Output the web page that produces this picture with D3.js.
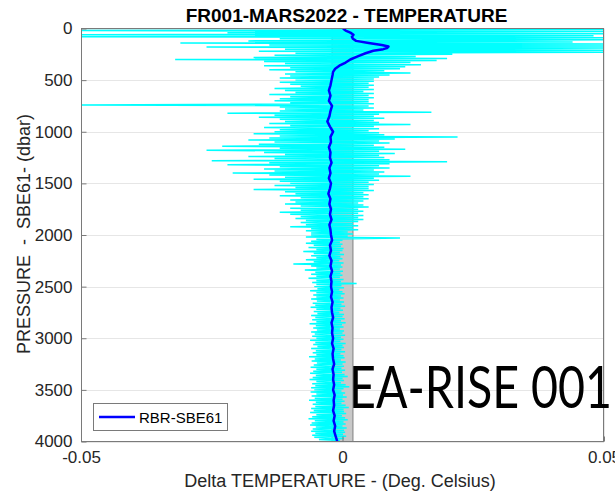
<!DOCTYPE html>
<html>
<head>
<meta charset="utf-8">
<script src="https://cdn.jsdelivr.net/npm/d3@7"></script>
<style>
  body { margin: 0; background: #fff; }
  svg { display: block; font-family: "Liberation Sans", Arial, Helvetica, sans-serif; }
</style>
</head>
<body>
<svg id="chart" width="615" height="492"></svg>
<script>
// ---- data ----------------------------------------------------------------
const titleText = "FR001-MARS2022 - TEMPERATURE";
const xLabelText = "Delta TEMPERATURE - (Deg. Celsius)";
const yLabelText = "PRESSURE  -  SBE61- (dbar)";
const stampText = "EA-RISE 001";
const legendLabel = "RBR-SBE61";

const xTicks = [-0.05, 0, 0.05];
const xTickLabels = ["-0.05", "0", "0.05"];
const yTicks = [0, 500, 1000, 1500, 2000, 2500, 3000, 3500, 4000];

// sensor accuracy band (deg C)
const bandLimits = [-0.002, 0.002];

// individual differences RBR - SBE61, millidegrees, one sample every 10 dbar from 0 dbar
const spreadStep = 10;
const spreadDelta = [
  -8, 50, -50, 50, -22, 50, -50, 48, -50, 50,
  -12, 50, -18, 44, -31, 50, -14, 50, -26, 50,
  -11, 50, -16, 50, -9, 21, -13, 14, -17, 20,
  -32, 18, -15, 13, -11, 15, -15, 12, -10, 11,
  -14, 8, -9, 13, -11, 9, -10, 7, -12, 6,
  -9, 6, -12, 5, -10, 6, -8, 5, -13, 6,
  -11, 4, -9, 6, -14, 5, -10, 6, -12, 5,
  -13, 5, -10, 6, -50, 5, -12, 6, -11, 4,
  -12, 17, -22, 7, -13, 6, -16, 8, -12, 6,
  -11, 7, -14, 13, -10, 6, -15, 7, -12, 5,
  -13, 7, -17, 8, -12, 22, -14, 10, -18, 7,
  -13, 9, -16, 6, -23, 8, -12, 12, -26, 7,
  -15, 10, -11, 7, -18, 8, -13, 9, -25, 20,
  -14, 9, -22, 7, -12, 9, -15, 6, -13, 8,
  -21, 7, -14, 13, -11, 6, -17, 7, -12, 5,
  -10, 6, -13, 5, -9, 5, -17, 6, -11, 4,
  -9, 5, -12, 4, -8, 5, -10, 4, -9, 3,
  -11, 4, -8, 5, -10, 3, -8, 4, -12, 3,
  -10, 4, -8, 3, -9, 4, -7, 3, -8, 2,
  -7, 3, -10, 2, -6, 3, -7, 1, -6, 2,
  -6, 1, -7, 11, -5, 0, -6, -0.5, -7, 0,
  -5.5, -0.3, -6.5, 0.2, -5, 0, -7.5, -0.5, -5.5, 0.3,
  -6, -0.4, -5, 0, -7, -0.6, -5.5, 0.2, -9.4, -0.3,
  -6, 0, -5, -0.5, -7.2, 0.1, -5.2, -0.4, -6, 0,
  -5, -0.5, -6.5, 0.2, -5, -0.3, -5.8, 2.7, -5, -0.2,
  -5.4, 0.3, -4.8, -0.6, -6.2, 0, -5, 0.4, -5.6, -0.3,
  -5, 0.2, -6, -0.5, -4.9, 0.3, -5.7, -0.2, -5.2, 0.5,
  -6.1, -0.4, -5, 0.1, -5.5, -0.6, -4.8, 0.3, -6, 0,
  -5.2, 0.4, -5.8, -0.3, -5, 0.6, -6.3, -0.1, -5.1, 0.2,
  -5.6, -0.5, -4.9, 0.3, -6, 0, -5.3, 0.5, -5.8, -0.3,
  -5, 0.2, -6.2, -0.4, -5.2, 0.6, -5.6, 0, -4.8, 0.3,
  -6, -0.2, -5.1, 0.5, -5.7, -0.4, -5, 0.2, -6.4, 0.4,
  -5.3, -0.3, -5.9, 0.6, -4.9, 0, -5.5, 0.3, -6.1, -0.2,
  -5, 0.5, -5.6, -0.1, -6.2, 0.4, -5.1, 1.0, -5.7, 0,
  -6.3, 0.3, -5, -0.3, -5.8, 0.6, -5.2, 1.3, -6, 0.2,
  -5.4, -0.2, -6.1, 0.5, -5, 0.1, -5.9, 0.8, -5.3, 0,
  -6.4, 0.4, -5.1, -0.2, -5.7, 0.6, -5.2, 1.2, -6, 0.2,
  -5.5, 0.3, -6.2, 0.7, -5, -0.1, -5.8, 0.5, -6.5, 1.0,
  -5.3, 0.2, -5.9, 0.6, -6.2, 0, -5.1, 0.8, -5.7, 0.3,
  -6, 0.5, -5.2, 0.1, -5.8, 0.7, -5.4, 0.3, -4.5, -0.5,
  -1.5
];

// mean difference profile RBR - SBE61 (millidegrees)
const meanPressure = [
  0, 20, 40, 60, 80, 100, 120, 140, 160, 175, 190, 200, 215, 240, 270, 300, 330, 360, 390, 420, 450,
  500, 550, 600, 650, 700, 750, 800, 850, 900, 950, 1000, 1050, 1100, 1150, 1200, 1250, 1300, 1350,
  1400, 1450, 1500, 1550, 1600, 1650, 1700, 1750, 1800, 1850, 1900, 1950, 2000, 2050, 2100, 2150,
  2200, 2250, 2300, 2350, 2400, 2450, 2500, 2550, 2600, 2650, 2700, 2750, 2800, 2850, 2900, 2950,
  3000, 3050, 3100, 3150, 3200, 3250, 3300, 3350, 3400, 3450, 3500, 3550, 3600, 3650, 3700, 3750,
  3800, 3850, 3900, 3950, 4000
];
const meanDelta = [
  0.1, 0.6, 1.5, 2.1, 1.8, 2.0, 2.6, 5.0, 7.5, 8.8, 8.5, 7.8, 5.9, 4.4, 2.9, 1.5, 0.6, -0.6, -1.4, -1.8, -1.9,
  -2.1, -2.3, -2.6, -2.3, -2.6, -2.0, -2.3, -2.5, -2.9, -2.4, -1.8, -2.3, -2.2, -2.6, -2.3, -2.4, -2.1, -2.5,
  -2.3, -2.6, -2.2, -2.4, -2.7, -2.3, -2.5, -2.2, -2.4, -2.1, -2.5, -2.3, -2.2, -2.0, -2.4, -2.2,
  -2.5, -2.1, -2.3, -2.0, -2.3, -2.1, -2.2, -2.0, -2.2, -1.9, -2.1, -2.0, -1.8, -2.1, -1.9, -2.0,
  -1.8, -2.0, -1.7, -1.9, -1.8, -1.6, -1.9, -1.7, -1.8, -1.6, -1.8, -1.5, -1.7, -1.6, -1.8, -1.5,
  -1.7, -1.4, -1.6, -1.3, -1.0
];

// ---- layout --------------------------------------------------------------
const svg = d3.select("#chart");
const plot = { left: 81, right: 604, top: 28.5, bottom: 441.5 };

const x = d3.scaleLinear().domain([-0.05, 0.05]).range([plot.left, plot.right]);
const y = d3.scaleLinear().domain([0, 4000]).range([plot.top, plot.bottom]);

svg.append("rect").attr("width", 615).attr("height", 492).attr("fill", "#fff");

svg.append("defs").append("clipPath").attr("id", "plotClip")
  .append("rect")
  .attr("x", plot.left).attr("y", plot.top)
  .attr("width", plot.right - plot.left).attr("height", plot.bottom - plot.top);

// grid
const grid = svg.append("g").attr("stroke", "#e6e6e6").attr("stroke-width", 1);
grid.selectAll("line.h").data(yTicks).join("line")
  .attr("x1", plot.left).attr("x2", plot.right)
  .attr("y1", d => Math.round(y(d)) + 0.5).attr("y2", d => Math.round(y(d)) + 0.5);
grid.selectAll("line.v").data(xTicks).join("line")
  .attr("y1", plot.top).attr("y2", plot.bottom)
  .attr("x1", d => Math.round(x(d)) + 0.5).attr("x2", d => Math.round(x(d)) + 0.5);

const layer = svg.append("g").attr("clip-path", "url(#plotClip)");

// accuracy band
layer.append("rect")
  .attr("x", x(bandLimits[0]))
  .attr("y", y(0))
  .attr("width", x(bandLimits[1]) - x(bandLimits[0]))
  .attr("height", y(4000) - y(0))
  .attr("fill", "#c8c8c8")
  .attr("stroke", "#808080")
  .attr("stroke-width", 1);

// individual differences
const spreadLine = d3.line()
  .x(d => x(d / 1000))
  .y((d, i) => y(i * spreadStep));
layer.append("path")
  .datum(spreadDelta)
  .attr("d", spreadLine)
  .attr("fill", "none")
  .attr("stroke", "#00ffff")
  .attr("stroke-width", 1.5)
  .attr("stroke-linejoin", "bevel");

// mean profile
const meanLine = d3.line()
  .x(d => x(d[1] / 1000))
  .y(d => y(d[0]));
layer.append("path")
  .datum(meanPressure.map((p, i) => [p, meanDelta[i]]))
  .attr("d", meanLine)
  .attr("fill", "none")
  .attr("stroke", "#0000ff")
  .attr("stroke-width", 2.5)
  .attr("stroke-linejoin", "round");

// axes box
svg.append("rect")
  .attr("x", plot.left + 0.5).attr("y", plot.top)
  .attr("width", plot.right - plot.left - 1).attr("height", plot.bottom - plot.top)
  .attr("fill", "none").attr("stroke", "#7a7a7a").attr("stroke-width", 1);

// y axis
const yAxis = d3.axisLeft(y).tickValues(yTicks).tickSizeInner(-5).tickSizeOuter(0).tickPadding(9)
  .tickFormat(d3.format("d"));
const gy = svg.append("g").attr("transform", `translate(${plot.left + 0.5},0)`).call(yAxis);
gy.select(".domain").remove();
gy.selectAll(".tick line").attr("stroke", "#7a7a7a");
gy.selectAll(".tick text").attr("fill", "#262626").attr("font-size", 17)
  .attr("font-family", "Liberation Sans, Arial, sans-serif");

// x axis
const xAxis = d3.axisBottom(x).tickValues(xTicks).tickSizeInner(-5).tickSizeOuter(0).tickPadding(9)
  .tickFormat((d, i) => xTickLabels[i]);
const gx = svg.append("g").attr("transform", `translate(0,${plot.bottom})`).call(xAxis);
gx.select(".domain").remove();
gx.selectAll(".tick line").attr("stroke", "#7a7a7a");
gx.selectAll(".tick text").attr("fill", "#262626").attr("font-size", 17)
  .attr("font-family", "Liberation Sans, Arial, sans-serif");

// title and axis labels
svg.append("text")
  .attr("x", (plot.left + plot.right) / 2 + 4).attr("y", 22)
  .attr("text-anchor", "middle").attr("font-weight", "bold").attr("font-size", 19)
  .attr("fill", "#000").text(titleText);

svg.append("text")
  .attr("x", 340).attr("y", 487)
  .attr("text-anchor", "middle").attr("font-size", 18)
  .attr("fill", "#262626").text(xLabelText);

svg.append("text")
  .attr("transform", `translate(30,234) rotate(-90)`)
  .attr("text-anchor", "middle").attr("font-size", 18)
  .attr("fill", "#262626").style("white-space", "pre").text(yLabelText);

// legend
const legend = svg.append("g");
legend.append("rect")
  .attr("x", 93.5).attr("y", 403.5).attr("width", 134).attr("height", 27)
  .attr("fill", "#fff").attr("stroke", "#7a7a7a").attr("stroke-width", 1);
legend.append("line")
  .attr("x1", 99).attr("x2", 135).attr("y1", 417).attr("y2", 417)
  .attr("stroke", "#0000ff").attr("stroke-width", 2.5);
legend.append("text")
  .attr("x", 139).attr("y", 422.5).attr("font-size", 15).attr("fill", "#000")
  .text(legendLabel);

// campaign stamp
svg.append("text")
  .attr("x", 349).attr("y", 408)
  .attr("font-family", "Lato, 'Open Sans', sans-serif").attr("font-size", 58)
  .attr("textLength", 263).attr("lengthAdjust", "spacingAndGlyphs")
  .attr("fill", "#000").text(stampText);
</script>
</body>
</html>
